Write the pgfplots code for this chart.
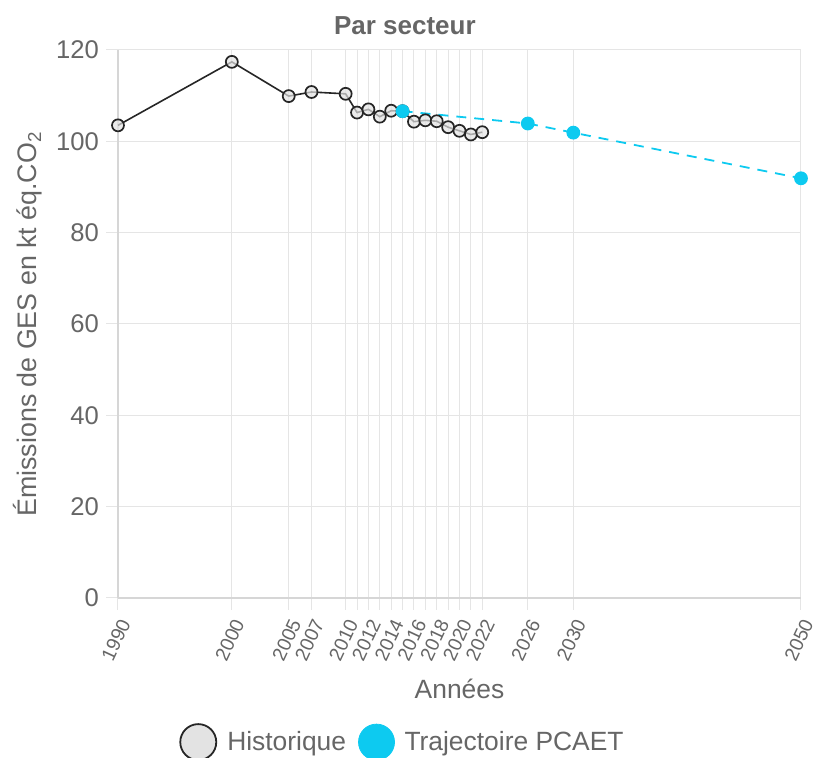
\documentclass[border=0pt]{standalone}
\usepackage{fontspec}
\setmainfont{Liberation Sans}
\usepackage{pgfplots}
\pgfplotsset{compat=1.18}
\definecolor{txt}{HTML}{666666}
\definecolor{gridc}{HTML}{E5E5E5}
\definecolor{axc}{HTML}{D6D6D6}
\definecolor{pcaet}{HTML}{0DCAF0}
\definecolor{histfill}{HTML}{E3E3E3}
\newcommand{\lab}{\fontsize{13.2}{15}\selectfont}

\begin{document}
\begin{tikzpicture}
\begin{axis}[
  scale only axis, width=341.5pt, height=274pt,
  xmin=1990, xmax=2050, ymin=0, ymax=120,
  clip=false,
  axis lines=left,
  axis line style={-, draw=axc, line width=0.6pt},
  xtick={1990,2000,2005,2007,2010,2011,2012,2013,2014,2015,2016,2017,2018,2019,2020,2021,2022,2026,2030,2050},
  xticklabels={1990,2000,2005,2007,2010,{},2012,{},2014,{},2016,{},2018,{},2020,{},2022,2026,2030,2050},
  ytick={0,20,...,120},
  grid=major,
  grid style={draw=gridc, line width=0.5pt},
  tick align=outside, major tick length=6pt,
  tick style={draw=gridc, line width=0.5pt},
  /pgf/number format/assume math mode=true,
  ticklabel style={text=txt},
  y tick label style={font=\fontsize{12.8}{15}\selectfont},
  x tick label style={font=\fontsize{9.7}{11}\selectfont, xshift=5pt, yshift=-2pt, rotate=65, anchor=east},
  title={Par secteur},
  title style={font=\bfseries\fontsize{13}{15}\selectfont, text=txt, at={(axis description cs:0.42,1.0219)}, anchor=center},
  xlabel={Années},
  xlabel style={font=\lab, text=txt, at={(axis description cs:0.5,-0.166)}, anchor=center},
  ylabel={Émissions de GES en kt éq.CO\textsubscript{2}},
  ylabel style={font=\fontsize{13.4}{15}\selectfont, text=txt, at={(axis description cs:-0.1318,0.5)}, anchor=center},
  legend columns=2,
  legend style={at={(axis description cs:0.418,-0.263)}, anchor=center,
    draw=none, fill=none, font=\lab, text=txt,
    /tikz/every even column/.append style={column sep=4pt}},
]
\addlegendimage{legend image code/.code={\path[draw=none] (0pt,-0.1pt) rectangle (21.5pt,0.1pt); \draw[black!85, line width=0.9pt, fill=histfill] (9pt,0pt) circle (9pt);}}
\addlegendentry{Historique}
\addlegendimage{legend image code/.code={\path[draw=none] (0pt,-0.1pt) rectangle (21pt,0.1pt); \fill[pcaet] (9pt,0pt) circle (9pt);}}
\addlegendentry{Trajectoire PCAET}

\addplot[draw=black!85, line width=0.8pt, mark=*, mark size=3pt,
  mark options={draw=black!85, fill=histfill, fill opacity=0.7, line width=0.85pt}, forget plot]
  coordinates {
  (1990,103.5) (2000,117.4) (2005,109.9) (2007,110.8) (2010,110.4)
  (2011,106.3) (2012,107.0) (2013,105.4) (2014,106.7) (2015,106.6)
  (2016,104.3) (2017,104.6) (2018,104.4) (2019,103.1) (2020,102.3)
  (2021,101.5) (2022,102.0)
};
\addplot[draw=pcaet, line width=0.9pt, dash pattern=on 5pt off 4pt, mark=*, mark size=3pt,
  mark options={solid, fill=pcaet, draw=pcaet}, forget plot]
  coordinates {
  (2015,106.6) (2026,103.9) (2030,101.9) (2050,91.9)
};
\end{axis}
\pgfresetboundingbox
\path[use as bounding box] (-59pt,-80pt) rectangle (349pt,299pt);
\end{tikzpicture}
\end{document}
